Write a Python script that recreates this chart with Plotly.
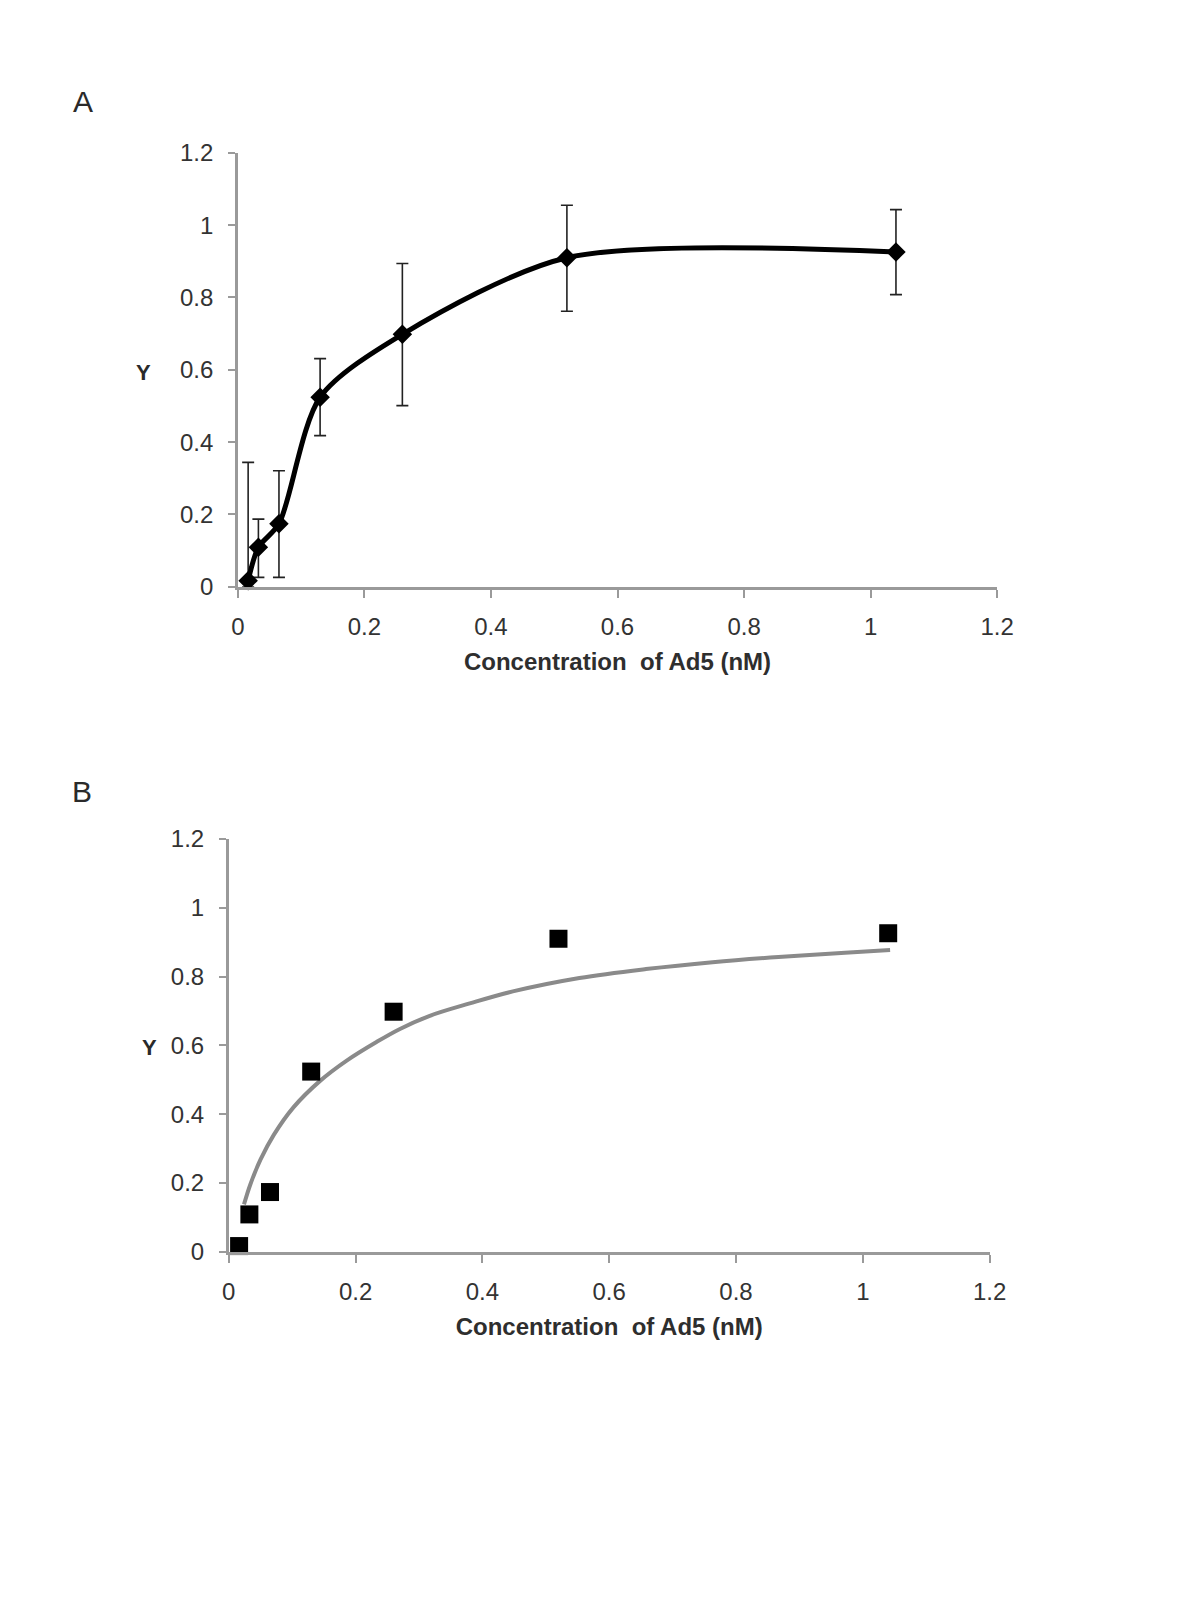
import plotly.graph_objects as go

# ---- data ----
conc_nM = [0.0163, 0.0325, 0.065, 0.13, 0.26, 0.52, 1.04]
y_mean = [0.017, 0.109, 0.174, 0.524, 0.698, 0.910, 0.926]
err_plus = [0.327, 0.078, 0.147, 0.107, 0.196, 0.145, 0.117]
err_minus = [0.017, 0.083, 0.148, 0.106, 0.197, 0.148, 0.118]

# fitted curve of panel B
fit_x = [0.024, 0.034, 0.050, 0.071, 0.102, 0.144, 0.186, 0.233, 0.270,
         0.317, 0.380, 0.448, 0.553, 0.658, 0.763, 0.867, 0.972, 1.043]
fit_y = [0.138, 0.196, 0.268, 0.340, 0.420, 0.497, 0.556, 0.610, 0.648,
         0.686, 0.722, 0.757, 0.796, 0.822, 0.842, 0.857, 0.869, 0.877]

tick_vals = [0, 0.2, 0.4, 0.6, 0.8, 1.0, 1.2]
tick_text = ["0", "0.2", "0.4", "0.6", "0.8", "1", "1.2"]

x_title = "Concentration  of Ad5 (nM)"
y_title = "Y"
panel_labels = ["A", "B"]

W, H = 1184, 1584

FONT = "Liberation Sans, Arial, sans-serif"
AXIS_GRAY = "#9a9a9a"
TICK_FONT = dict(family=FONT, size=24, color="#333333")
TITLE_FONT = dict(family=FONT, size=24, color="#2e2e2e", weight="bold")


# map target page pixels (as measured on the reference) to paper fractions
def px_x(p):
    return (p - 12) / 1164


def px_y(p):
    return 1 - (p - 21) / 1559


fig = go.Figure()

# Panel A: smoothed line with diamonds and error bars
fig.add_trace(go.Scatter(
    x=conc_nM, y=y_mean, mode="lines+markers",
    line=dict(color="black", width=5, shape="spline", smoothing=0.8),
    marker=dict(symbol="diamond", size=15, color="black"),
    error_y=dict(type="data", symmetric=False, array=err_plus,
                 arrayminus=err_minus, color="#222222", thickness=1.6,
                 width=6),
    cliponaxis=False, showlegend=False, xaxis="x", yaxis="y",
))

# Panel B: fitted curve + squares
fig.add_trace(go.Scatter(
    x=fit_x, y=fit_y, mode="lines",
    line=dict(color="#8a8a8a", width=4, shape="spline", smoothing=1.0),
    showlegend=False, xaxis="x2", yaxis="y2",
))
fig.add_trace(go.Scatter(
    x=conc_nM, y=y_mean, mode="markers",
    marker=dict(symbol="square", size=18, color="black"),
    cliponaxis=False, showlegend=False, xaxis="x2", yaxis="y2",
))


def xax(domain, anchor):
    return dict(
        domain=domain, anchor=anchor, range=[0, 1.2],
        tickmode="array", tickvals=tick_vals, ticktext=tick_text,
        showline=True, linecolor=AXIS_GRAY, linewidth=2.5,
        ticks="outside", ticklen=8, tickwidth=1.5, tickcolor=AXIS_GRAY,
        showgrid=False, zeroline=False, tickfont=TICK_FONT,
        ticklabelstandoff=9,
        title=dict(text=x_title, font=TITLE_FONT, standoff=14),
    )


def yax(domain, anchor):
    return dict(
        domain=domain, anchor=anchor, range=[0, 1.2],
        tickmode="array", tickvals=tick_vals, ticktext=tick_text,
        showline=True, linecolor=AXIS_GRAY, linewidth=2.5,
        ticks="outside", ticklen=7, tickwidth=1.5, tickcolor=AXIS_GRAY,
        showgrid=False, zeroline=False, tickfont=TICK_FONT,
        ticklabelstandoff=10,
    )


def label(text, x, y, size, bold=False):
    return dict(text=text, x=px_x(x), y=px_y(y), xref="paper", yref="paper",
                xanchor="center", yanchor="middle", showarrow=False,
                font=dict(family=FONT, size=size, color="#2a2a2a",
                          weight="bold" if bold else "normal"))


fig.update_layout(
    width=W, height=H,
    margin=dict(l=0, r=0, t=0, b=0),
    paper_bgcolor="white", plot_bgcolor="white",
    xaxis=xax([px_x(235.6), px_x(997.6)], "y"),
    yaxis=yax([px_y(586.5), px_y(152.0)], "x"),
    xaxis2=xax([px_x(226.5), px_x(990.0)], "y2"),
    yaxis2=yax([px_y(1252.5), px_y(839.0)], "x2"),
    annotations=[
        label(panel_labels[0], 80, 101, 30),
        label(panel_labels[1], 79, 791, 30),
        label(y_title, 141, 372, 22, bold=True),
        label(y_title, 147, 1048, 22, bold=True),
    ],
)

fig.write_html("out.html")
